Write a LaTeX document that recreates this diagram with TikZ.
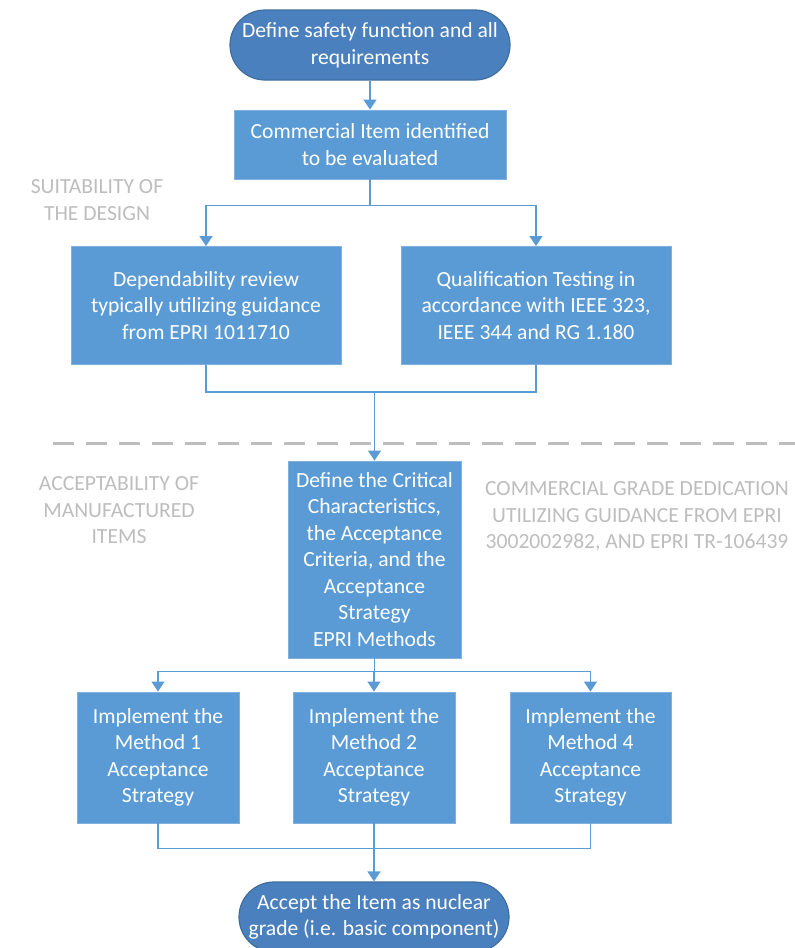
\documentclass[tikz,border=0pt]{standalone}
\usepackage{fontspec}
\setmainfont{Carlito}
\usetikzlibrary{arrows.meta}
\definecolor{boxblue}{HTML}{5B9BD5}
\definecolor{boxedge}{HTML}{7FB0DF}
\definecolor{termblue}{HTML}{4A80BE}
\definecolor{termedge}{HTML}{3F6E9E}
\definecolor{lbl}{HTML}{BDBDBD}
\tikzset{
  txt/.style={font=\fontsize{21.6}{26.5}\selectfont, align=center, inner sep=0pt},
  stepbox/.style={txt, draw=boxedge, fill=boxblue, line width=0.9pt, text=white},
  termbox/.style={txt, draw=termedge, fill=termblue, line width=1.2pt, text=white, rounded corners=35pt},
  glabel/.style={txt, text=lbl},
  link/.style={draw=boxblue, line width=1.4pt},
  arr/.style={link, -{Triangle[width=13pt,length=10pt]}},
}
\begin{document}
\begin{tikzpicture}[x=1pt,y=-1pt]
\useasboundingbox (0,0) rectangle (795,948);
\clip (0,0) rectangle (795,948);

% nodes
\node[termbox, minimum width=280pt, minimum height=70pt] (t1) at (370,45) {Define safety function and all\\requirements};
\node[stepbox, minimum width=272pt, minimum height=69pt] (item) at (370,144.5) {Commercial Item identified\\to be evaluated};
\node[stepbox, minimum width=270pt, minimum height=118pt] (dep) at (206,305.5) {Dependability review\\typically utilizing guidance\\from EPRI 1011710};
\node[stepbox, minimum width=270pt, minimum height=118pt] (qual) at (536,305.5) {Qualification Testing in\\accordance with IEEE 323,\\IEEE 344 and RG 1.180};
\node[stepbox, minimum width=173pt, minimum height=197pt] (def) at (374.5,559.5) {Define the Critical\\Characteristics,\\the Acceptance\\Criteria, and the\\Acceptance\\Strategy\\EPRI Methods};
\node[stepbox, minimum width=162pt, minimum height=131pt] (m1) at (158,757.5) {Implement the\\Method 1\\Acceptance\\Strategy};
\node[stepbox, minimum width=162pt, minimum height=131pt] (m2) at (374,757.5) {Implement the\\Method 2\\Acceptance\\Strategy};
\node[stepbox, minimum width=161pt, minimum height=131pt] (m4) at (590.5,757.5) {Implement the\\Method 4\\Acceptance\\Strategy};
\node[termbox, minimum width=270pt, minimum height=70pt] (t2) at (374,917) {Accept the Item as nuclear\\grade (i.e. basic component)};

% labels
\node[glabel] (l1) at (97,200) {SUITABILITY OF\\THE DESIGN};
\node[glabel] (l2) at (119,510.5) {ACCEPTABILITY OF\\MANUFACTURED\\ITEMS};
\node[glabel] (l3) at (637,516.5) {COMMERCIAL GRADE DEDICATION\\UTILIZING GUIDANCE FROM EPRI\\3002002982, AND EPRI TR-106439};

% divider
\coordinate (dl) at (53,443);
\coordinate (dr) at (795,443);
\draw[lbl, line width=3pt, dash pattern=on 21pt off 12pt] (dl) -- (dr);

% connectors
\draw[arr] (t1) -- (item);
\draw[link] (item.south) -- ++(0,26) coordinate (s1);
\draw[arr] (s1) -| (dep.north);
\draw[arr] (s1) -| (qual.north);

\draw[link] (dep.south) -- ++(0,27) coordinate (j1) -| (qual.south);
\coordinate (j1m) at (def.north |- j1);
\draw[arr] (j1m) -- (def.north);

\draw[link] (def.south) -- ++(0,13) coordinate (s2);
\draw[arr] (s2) -| (m1.north);
\draw[arr] (s2) -| (m4.north);
\draw[arr] (s2 -| m2.north) -- (m2.north);

\draw[link] (m1.south) -- ++(0,25) coordinate (j2) -| (m4.south);
\draw[link] (m2.south) -- (m2.south |- j2);
\draw[arr] (t2.north |- j2) -- (t2.north);
\end{tikzpicture}
\end{document}
